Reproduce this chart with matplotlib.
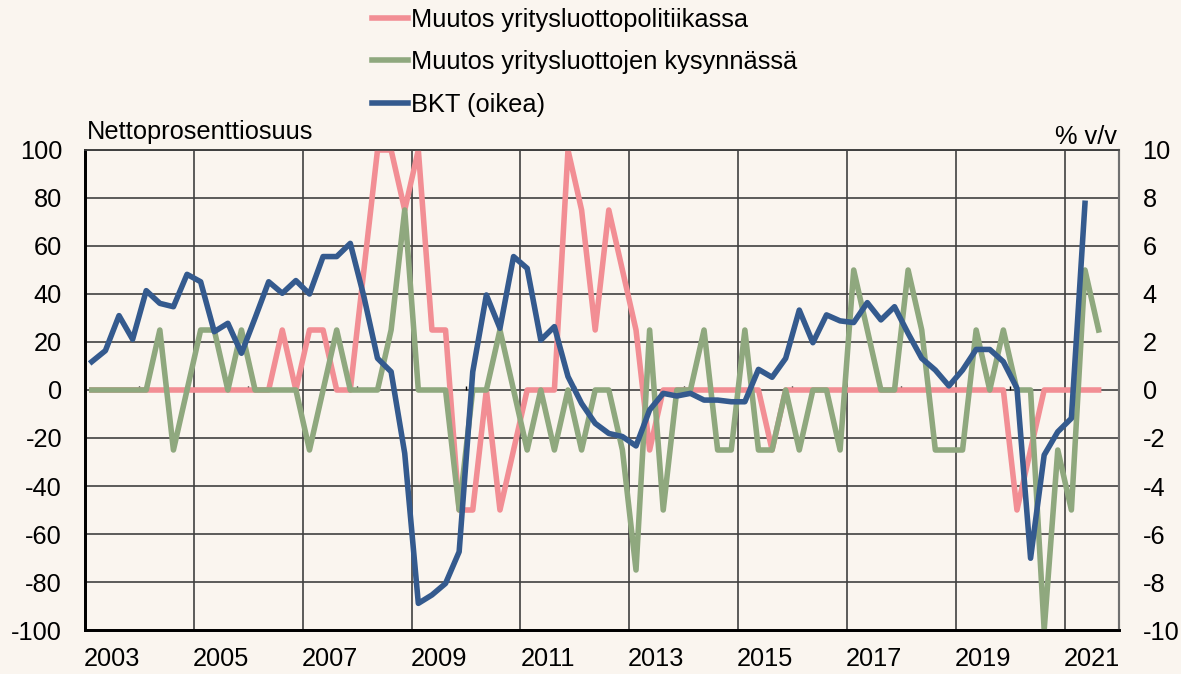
import matplotlib
matplotlib.use("Agg")
import matplotlib.pyplot as plt
import numpy as np

plt.rcParams['font.family'] = ['Liberation Sans', 'DejaVu Sans']

# Quarterly data, 2003Q1 onwards
# Muutos yritysluottopolitiikassa (nettoprosenttiosuus)
policy = [0, 0, 0, 0, 0, 0, 0, 0, 0, 0,
          0, 0, 0, 0, 25, 0, 25, 25, 0, 0,
          50, 100, 100, 75, 100, 25, 25, -50, -50, 0,
          -50, -25, 0, 0, 0, 100, 75, 25, 75, 50,
          25, -25, 0, 0, 0, 0, 0, 0, 0, 0,
          -25, 0, 0, 0, 0, 0, 0, 0, 0, 0,
          0, 0, 0, 0, 0, 0, 0, 0, -50, -25,
          0, 0, 0, 0, 0]
# Muutos yritysluottojen kysynnässä (nettoprosenttiosuus)
demand = [0, 0, 0, 0, 0, 25, -25, 0, 25, 25,
          0, 25, 0, 0, 0, 0, -25, 0, 25, 0,
          0, 0, 25, 75, 0, 0, 0, -50, 0, 0,
          25, 0, -25, 0, -25, 0, -25, 0, 0, -25,
          -75, 25, -50, 0, 0, 25, -25, -25, 25, -25,
          -25, 0, -25, 0, 0, -25, 50, 25, 0, 0,
          50, 25, -25, -25, -25, 25, 0, 25, 0, 0,
          -100, -25, -50, 50, 25]
# BKT, % v/v (oikea akseli)
gdp = [1.18, 1.64, 3.10, 2.11, 4.14, 3.61, 3.47, 4.82, 4.51, 2.43,
       2.78, 1.53, 3.00, 4.51, 4.03, 4.56, 4.00, 5.56, 5.56, 6.11,
       3.89, 1.32, 0.76, -2.64, -8.89, -8.54, -8.06, -6.74, 0.76, 3.96,
       2.57, 5.56, 5.07, 2.08, 2.64, 0.56, -0.56, -1.39, -1.81, -1.94,
       -2.33, -0.83, -0.14, -0.25, -0.14, -0.42, -0.42, -0.49, -0.49, 0.86,
       0.53, 1.32, 3.33, 1.97, 3.13, 2.88, 2.81, 3.64, 2.92, 3.47,
       2.36, 1.32, 0.83, 0.17, 0.83, 1.69, 1.69, 1.18, 0.07, -7.01,
       -2.71, -1.74, -1.18, 7.78]
year_labels = ["2003", "2005", "2007", "2009", "2011", "2013",
               "2015", "2017", "2019", "2021"]
n_quarters = 76

BG = "#faf5ef"
PINK = "#f28e94"
GREEN = "#8fa87e"
BLUE = "#345a8e"
FS = 18.3

fig = plt.figure(figsize=(11.81, 6.74), dpi=100, facecolor=BG)
ax = fig.add_axes([85/1181, 1-630/674, (1119-85)/1181, 480/674])
ax.set_facecolor(BG)

ax.set_xlim(-0.5, n_quarters-0.5)
ax.set_ylim(-100, 100)

#grid
for xg in np.arange(-0.5, n_quarters, 8):
    ax.axvline(xg, color="#404040", lw=1.2, zorder=1)
for yg in np.arange(-80, 101, 20):
    ax.axhline(yg, color="#404040", lw=1.2, zorder=1)
#small ticks on the zero line
ax.vlines(np.arange(3.5, n_quarters, 8), 0, 1.6, color="black", lw=1, zorder=1)

lp, = ax.plot(np.arange(len(policy)), policy, color=PINK, lw=4,
              solid_joinstyle="round", zorder=3)
ld, = ax.plot(np.arange(len(demand)), demand, color=GREEN, lw=4,
              solid_joinstyle="round", zorder=4)

ax2 = ax.twinx()
ax2.set_ylim(-10, 10)
lg, = ax2.plot(np.arange(len(gdp)), gdp, color=BLUE, lw=4,
               solid_joinstyle="round", zorder=5)

#ticks and labels
ax.set_xticks(np.arange(1.5, n_quarters, 8))
ax.set_xticklabels(year_labels, fontsize=FS)
ax.set_yticks(np.arange(-100, 101, 20))
ax.set_yticklabels([str(v) for v in range(-100, 101, 20)], fontsize=FS)
ax.tick_params(axis="x", length=0, pad=12.5)
ax.tick_params(axis="y", length=0, pad=16.5)
ax2.set_yticks(np.arange(-10, 11, 2))
ax2.set_yticklabels([str(v) for v in range(-10, 11, 2)], fontsize=FS)
ax2.tick_params(axis="y", length=0, pad=17)

for a in (ax, ax2):
    a.spines["top"].set_color("#404040")
    a.spines["top"].set_linewidth(1.2)
    a.spines["left"].set_color("black")
    a.spines["left"].set_linewidth(2)
    a.spines["bottom"].set_color("black")
    a.spines["bottom"].set_linewidth(2)
    a.spines["right"].set_color("#707070")
    a.spines["right"].set_linewidth(1.5)

fig.text(87/1181, 1-139/674, "Nettoprosenttiosuus", fontsize=FS,
         ha="left", va="baseline")
fig.text(1117/1181, 1-144/674, "% v/v", fontsize=FS,
         ha="right", va="baseline")

fig.legend([lp, ld, lg],
           ["Muutos yritysluottopolitiikassa",
            "Muutos yritysluottojen kysynnässä",
            "BKT (oikea)"],
           loc="upper left", bbox_to_anchor=(372/1181, 1-8/674),
           frameon=False, fontsize=FS, handlelength=1.4,
           handletextpad=0.12, labelspacing=0.72,
           borderpad=0, borderaxespad=0)

plt.savefig("out.png", dpi=100, facecolor=BG)
